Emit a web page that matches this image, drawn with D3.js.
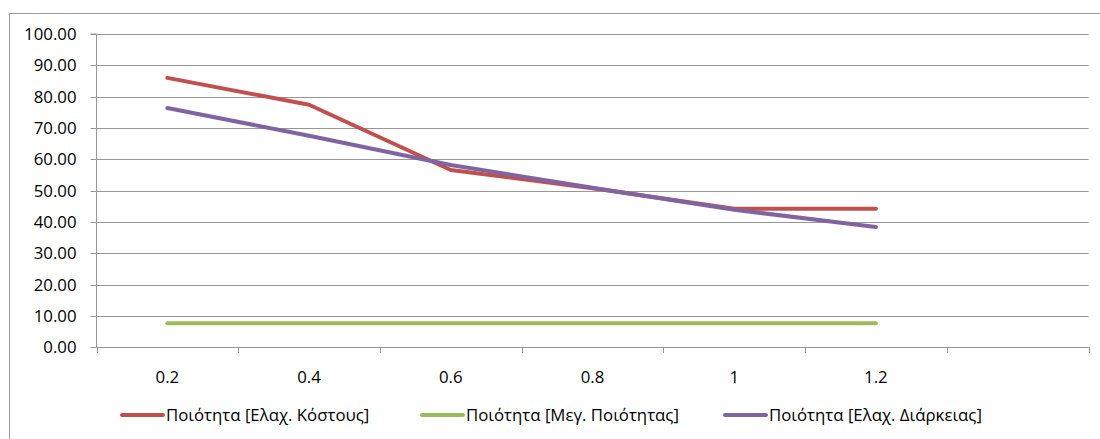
<!DOCTYPE html>
<html>
<head>
<meta charset="utf-8">
<script src="https://cdn.jsdelivr.net/npm/d3@7"></script>
<style>
  html, body { margin: 0; padding: 0; background: #fff; }
  svg { display: block; }
  text { font-family: "Open Sans", "Noto Sans", sans-serif; fill: #000; }
</style>
</head>
<body>
<svg id="chart" width="1100" height="439"></svg>
<script>
// Categories along the x axis (the last slot is intentionally empty)
const categories = ["0.2", "0.4", "0.6", "0.8", "1", "1.2", ""];
const seriesNames = [
  "Ποιότητα [Ελαχ. Κόστους]",
  "Ποιότητα [Μεγ. Ποιότητας]",
  "Ποιότητα [Ελαχ. Διάρκειας]"
];
const costValues     = [86.0, 77.4, 56.6, 50.8, 44.2, 44.2];
const qualityValues  = [7.7, 7.7, 7.7, 7.7, 7.7, 7.7];
const durationValues = [76.4, 67.5, 58.2, 50.9, 43.9, 38.4];
const seriesColors = ["#C0504D", "#9BBB59", "#8064A2"];
const yTicks = [0, 10, 20, 30, 40, 50, 60, 70, 80, 90, 100];

const series = [costValues, qualityValues, durationValues].map((v, i) => ({
  name: seriesNames[i], values: v, color: seriesColors[i]
}));

const svg = d3.select("#chart");
const gridColor = "#969696";
const fontSize = "16.8px";

// chart frame
svg.append("rect")
  .attr("x", 9.5).attr("y", 13.5)
  .attr("width", 1100).attr("height", 440)
  .attr("fill", "none").attr("stroke", "#9a9a9a").attr("stroke-width", 1);

const plot = { left: 96.5, right: 1088.5, top: 34, bottom: 347.3 };

const x = d3.scaleBand().domain(categories.map((c, i) => i))
  .range([plot.left, plot.right]).paddingInner(0).paddingOuter(0);
const y = d3.scaleLinear().domain([0, 100]).range([plot.bottom, plot.top]);

// horizontal gridlines
svg.append("g").selectAll("line").data(yTicks.filter(d => d > 0)).join("line")
  .attr("x1", plot.left).attr("x2", plot.right)
  .attr("y1", d => Math.round(y(d)) + 0.5).attr("y2", d => Math.round(y(d)) + 0.5)
  .attr("stroke", gridColor).attr("stroke-width", 1);

// y axis
const yAxis = d3.axisLeft(y).tickValues(yTicks).tickSize(6).tickPadding(14)
  .tickFormat(d3.format(".2f"));
const gy = svg.append("g").attr("transform", `translate(${plot.left},0)`).call(yAxis);
gy.select(".domain").attr("stroke", gridColor).attr("d", `M-6,${plot.top}H0V${plot.bottom}`);
gy.selectAll(".tick line").attr("stroke", gridColor);
gy.selectAll(".tick").attr("transform", d => `translate(0,${Math.round(y(d)) + 0.5})`);
gy.selectAll("text").style("font-size", fontSize).attr("fill", "#000");

// x axis with ticks at category boundaries
const xb = d3.range(categories.length + 1).map(i => plot.left + i * x.bandwidth());
const gx = svg.append("g");
gx.append("line").attr("x1", plot.left).attr("x2", plot.right)
  .attr("y1", Math.round(plot.bottom) + 0.5).attr("y2", Math.round(plot.bottom) + 0.5)
  .attr("stroke", gridColor);
gx.selectAll(".xt").data(xb).join("line").attr("class", "xt")
  .attr("x1", d => Math.round(d) + 0.5).attr("x2", d => Math.round(d) + 0.5)
  .attr("y1", Math.round(plot.bottom)).attr("y2", Math.round(plot.bottom) + 6)
  .attr("stroke", gridColor);
gx.selectAll("text").data(categories).join("text")
  .attr("x", (d, i) => x(i) + x.bandwidth() / 2)
  .attr("y", 383)
  .attr("text-anchor", "middle")
  .style("font-size", fontSize)
  .text(d => d);

// series lines
const line = d3.line()
  .x((d, i) => x(i) + x.bandwidth() / 2)
  .y(d => y(d));

svg.append("g").selectAll("path").data(series).join("path")
  .attr("d", s => line(s.values))
  .attr("fill", "none")
  .attr("stroke", s => s.color)
  .attr("stroke-width", 4)
  .attr("stroke-linecap", "round")
  .attr("stroke-linejoin", "round");

// legend
const legendX = [122, 422, 725];
const lg = svg.append("g").selectAll("g").data(series).join("g")
  .attr("transform", (d, i) => `translate(${legendX[i]},415)`);
lg.append("line").attr("x1", 0).attr("x2", 41).attr("y1", 0).attr("y2", 0)
  .attr("stroke", d => d.color).attr("stroke-width", 4).attr("stroke-linecap", "round");
lg.append("text").attr("x", 44).attr("y", 6)
  .style("font-size", fontSize)
  .text(d => d.name);
</script>
</body>
</html>
